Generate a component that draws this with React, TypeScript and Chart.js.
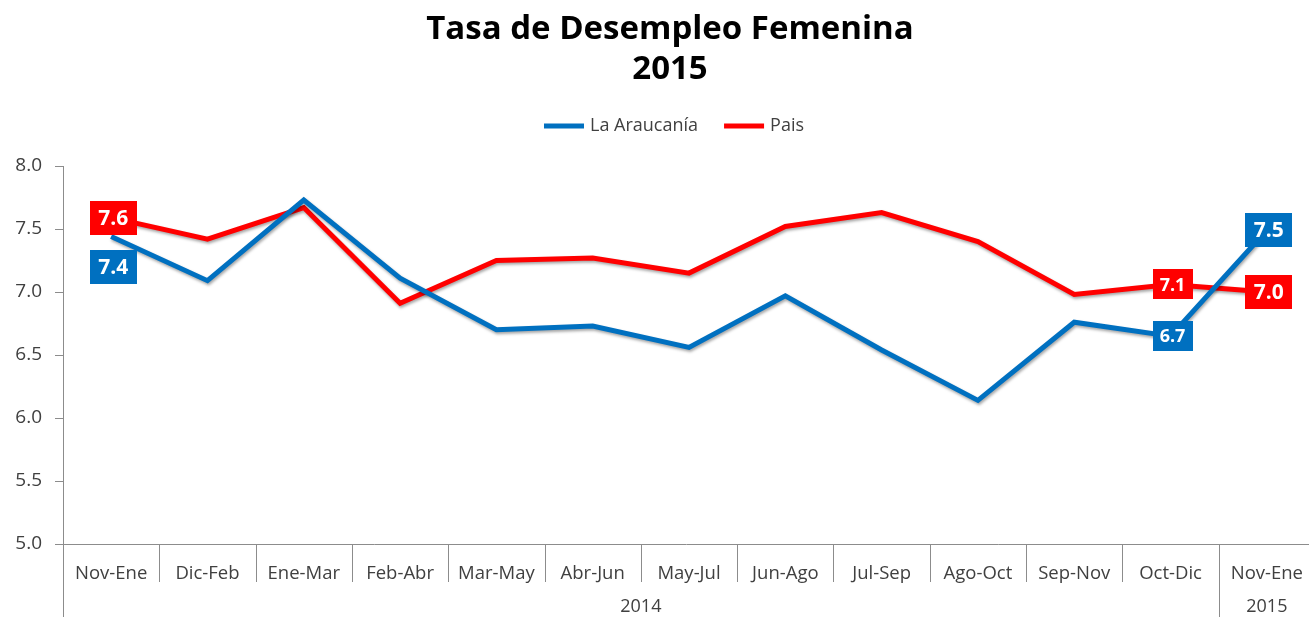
import React, { useEffect, useRef } from "react";
import { Chart, registerables } from "chart.js";

Chart.register(...registerables);

const titleLines = ["Tasa de Desempleo Femenina", "2015"];
const categories = ["Nov-Ene", "Dic-Feb", "Ene-Mar", "Feb-Abr", "Mar-May", "Abr-Jun", "May-Jul", "Jun-Ago", "Jul-Sep", "Ago-Oct", "Sep-Nov", "Oct-Dic", "Nov-Ene"];
const yearGroups = ["2014", "2015"];
const yearSpans = [12, 1];
const araucania = [7.44, 7.09, 7.73, 7.11, 6.70, 6.73, 6.56, 6.97, 6.54, 6.14, 6.76, 6.65, 7.49];
const pais = [7.59, 7.42, 7.67, 6.91, 7.25, 7.27, 7.15, 7.52, 7.63, 7.40, 6.98, 7.06, 7.00];
const yTicks = [5.0, 5.5, 6.0, 6.5, 7.0, 7.5, 8.0];

const BLUE = "#0070C0";
const RED = "#FF0000";
const FONT = "'Open Sans', Lato, sans-serif";
const TEXT = "#404040";

// label config: dataset index, point index, vertical offset, size class
const labelCfg = [
  { ds: 1, i: 0, dy: 0, big: true },
  { ds: 0, i: 0, dy: 30, big: true },
  { ds: 0, i: 11, dy: 0, big: false },
  { ds: 1, i: 11, dy: 0, big: false },
  { ds: 0, i: 12, dy: 0, big: true },
  { ds: 1, i: 12, dy: 0, big: true },
];

const extendPlugin = {
  id: "extend",
  afterLayout(chart: any) {
    const x = chart.scales.x;
    x.right += 6;
    x.width += 6;
    x.configure();
    chart.chartArea.right += 6;
    chart.chartArea.width += 6;
  },
};

const shadowPlugin = {
  id: "shadow",
  beforeDatasetDraw(chart: any) {
    const ctx = chart.ctx;
    ctx.save();
    ctx.shadowColor = "rgba(0,0,0,0.35)";
    ctx.shadowBlur = 3;
    ctx.shadowOffsetX = 1;
    ctx.shadowOffsetY = 2;
  },
  afterDatasetDraw(chart: any) {
    chart.ctx.restore();
  },
};

const headerPlugin = {
  id: "header",
  afterDraw(chart: any) {
    const ctx = chart.ctx;
    ctx.save();
    ctx.textBaseline = "middle";
    ctx.textAlign = "center";
    ctx.fillStyle = "#000";
    ctx.font = `bold 33px ${FONT}`;
    ctx.fillText(titleLines[0], 670, 30);
    ctx.fillText(titleLines[1], 670, 70);
    ctx.font = `18px ${FONT}`;
    const items = chart.data.datasets.map((d: any) => ({ text: d.label, color: d.borderColor }));
    const boxW = 40, gapT = 6, gapI = 26;
    const widths = items.map((it: any) => boxW + gapT + ctx.measureText(it.text).width);
    const total = widths.reduce((a: number, b: number) => a + b, 0) + gapI * (items.length - 1);
    let lx = 674 - total / 2;
    const ly = 126;
    ctx.textAlign = "left";
    items.forEach((it: any, k: number) => {
      ctx.fillStyle = it.color;
      ctx.fillRect(lx, ly - 2.5, boxW, 5);
      ctx.fillStyle = TEXT;
      ctx.fillText(it.text, lx + boxW + gapT, ly);
      lx += widths[k] + gapI;
    });
    ctx.restore();
  },
};

const decoPlugin = {
  id: "deco",
  afterDraw(chart: any) {
    const ctx = chart.ctx;
    const x = chart.scales.x;
    const area = chart.chartArea;
    const H = chart.height;
    const step = x.getPixelForValue(1) - x.getPixelForValue(0);
    ctx.save();
    ctx.strokeStyle = "#8c8c8c";
    ctx.lineWidth = 1;
    let acc = 0;
    const groupEnds = new Set<number>();
    yearSpans.forEach((s) => {
      acc += s;
      groupEnds.add(acc);
    });
    for (let i = 0; i < categories.length; i++) {
      const bx = Math.round(x.getPixelForValue(i) - step / 2) + 0.5;
      const long = i === 0 || groupEnds.has(i);
      ctx.beginPath();
      ctx.moveTo(bx, area.bottom);
      ctx.lineTo(bx, long ? H : area.bottom + 38);
      ctx.stroke();
    }
    ctx.fillStyle = TEXT;
    ctx.font = `18px ${FONT}`;
    ctx.textAlign = "center";
    ctx.textBaseline = "middle";
    let start = 0;
    yearGroups.forEach((g, k) => {
      const end = start + yearSpans[k] - 1;
      const cx = (x.getPixelForValue(start) + x.getPixelForValue(end)) / 2;
      ctx.fillText(g, cx, 607);
      start += yearSpans[k];
    });
    labelCfg.forEach((c) => {
      const pt = chart.getDatasetMeta(c.ds).data[c.i];
      const val = chart.data.datasets[c.ds].data[c.i] as number;
      const txt = val.toFixed(1);
      const size = c.big ? 21 : 18;
      const w = c.big ? 47 : 40;
      const h = c.big ? 34 : 30;
      ctx.font = `bold ${size}px ${FONT}`;
      const cx = pt.x + 2;
      const cy = pt.y + c.dy;
      ctx.fillStyle = chart.data.datasets[c.ds].borderColor;
      ctx.fillRect(Math.round(cx - w / 2), Math.round(cy - h / 2), w, h);
      ctx.fillStyle = "#ffffff";
      ctx.fillText(txt, cx, cy + 1);
    });
    ctx.restore();
  },
};

export default function App() {
  const ref = useRef<HTMLCanvasElement>(null);
  useEffect(() => {
    document.body.style.margin = "0";
    const chart = new Chart(ref.current!, {
      type: "line",
      data: {
        labels: categories,
        datasets: [
          { label: "La Araucanía", data: araucania, borderColor: BLUE, backgroundColor: BLUE, borderWidth: 5, pointRadius: 0, tension: 0, clip: false as any },
          { label: "Pais", data: pais, borderColor: RED, backgroundColor: RED, borderWidth: 5, pointRadius: 0, tension: 0, clip: false as any },
        ],
      },
      options: {
        animation: false,
        responsive: false,
        layout: { padding: { left: 0, right: 0, top: 166, bottom: 0 } },
        plugins: {
          tooltip: { enabled: false },
          title: { display: false },
          legend: { display: false },
        },
        scales: {
          x: {
            type: "category",
            offset: true,
            grid: { display: false, offset: true },
            border: { display: true, color: "#8c8c8c" },
            ticks: { color: TEXT, font: { family: FONT, size: 18.5 }, padding: 11, maxRotation: 0, autoSkip: false },
            afterFit(s: any) { s.height = 73; },
          },
          y: {
            min: 5,
            max: 8,
            afterBuildTicks(s: any) { s.ticks = yTicks.map((v) => ({ value: v })); },
            grid: { drawOnChartArea: false, drawTicks: true, tickLength: 8, color: "#8c8c8c" },
            border: { display: true, color: "#8c8c8c" },
            ticks: { color: TEXT, font: { family: FONT, size: 19 }, padding: 13, callback: (v: any) => Number(v).toFixed(1) },
            afterFit(s: any) { s.width = 63; },
          },
        },
      },
      plugins: [extendPlugin, shadowPlugin, decoPlugin, headerPlugin],
    });
    return () => chart.destroy();
  }, []);
  return (
    <div style={{ width: 1309, height: 617 }}>
      <canvas ref={ref} width={1309} height={617} />
    </div>
  );
}
